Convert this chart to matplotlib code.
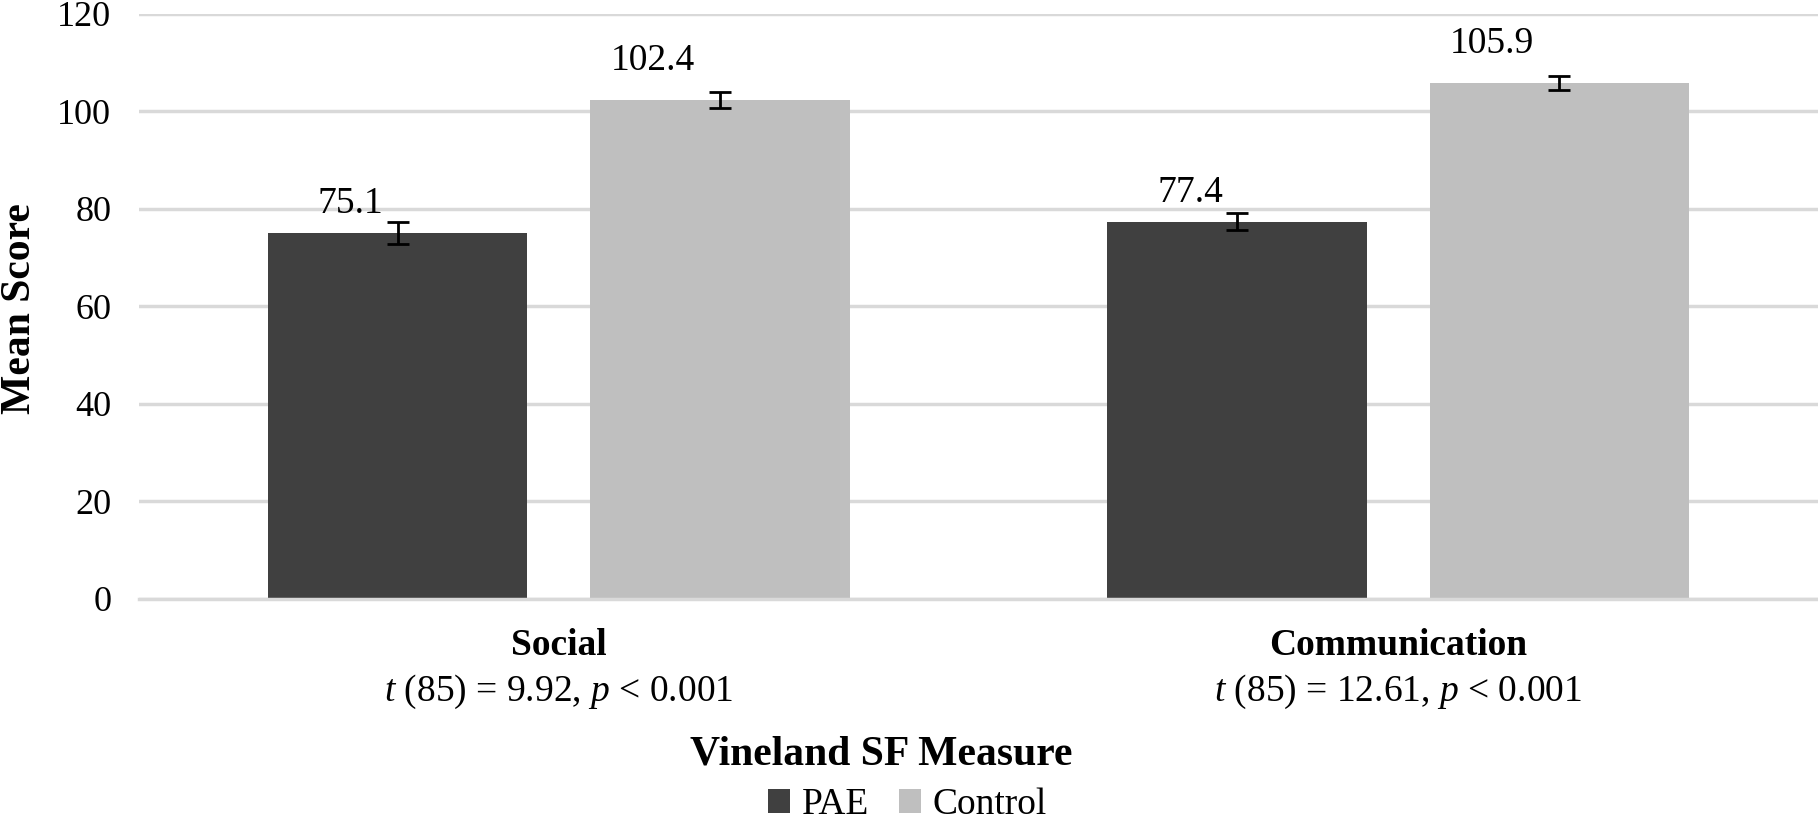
import matplotlib.pyplot as plt
import numpy as np

# data
measures = ["Social", "Communication"]
stats = ["$t$ (85) = 9.92, $p$ < 0.001", "$t$ (85) = 12.61, $p$ < 0.001"]
pae = [75.1, 77.4]
control = [102.4, 105.9]
pae_err = [2.2, 1.7]
control_err = [1.6, 1.4]

plt.rcParams['font.family'] = ['Liberation Serif', 'DejaVu Serif']
plt.rcParams['mathtext.fontset'] = 'custom'
plt.rcParams['mathtext.rm'] = 'Liberation Serif'
plt.rcParams['mathtext.it'] = 'Liberation Serif:italic'

fs = 27
fig = plt.figure(figsize=(18.18, 8.22), dpi=100)
ax = fig.add_axes([0.0765, 0.2713, 0.9235, 0.7117])

x = np.arange(len(measures))
w = 0.309
off = 0.192
b1 = ax.bar(x - off, pae, w, color='#404040', label='PAE', zorder=2)
b2 = ax.bar(x + off, control, w, color='#bfbfbf', label='Control', zorder=2)
ax.errorbar(x - off, pae, yerr=pae_err, fmt='none', ecolor='black', elinewidth=2,
            capsize=8, capthick=2, zorder=3)
ax.errorbar(x + off, control, yerr=control_err, fmt='none', ecolor='black', elinewidth=2,
            capsize=8, capthick=2, zorder=3)

# value labels (sit a bit left of bar centre, like the original)
for xi, v in zip(x - off, pae):
    ax.text(xi - 0.056, v + 6.0, f"{v:.1f}", ha='center', va='center', fontsize=fs)
for xi, v in zip(x + off, control):
    ax.text(xi - 0.08, v + 8.0, f"{v:.1f}", ha='center', va='center', fontsize=fs)

ax.set_xlim(-0.5, 1.5)
ax.set_ylim(0, 120)
ax.set_yticks(np.arange(0, 121, 20))
ax.tick_params(axis='y', length=0, pad=20, labelsize=26)
ax.set_xticks([])
ax.grid(axis='y', color='#d9d9d9', linewidth=2.5, zorder=0)
ax.set_axisbelow(True)
for s in ['top', 'right', 'left']:
    ax.spines[s].set_visible(False)
ax.spines['bottom'].set_color('#d9d9d9')
ax.spines['bottom'].set_linewidth(2.5)

trans = ax.get_xaxis_transform()
for xi, m, st in zip(x, measures, stats):
    ax.text(xi, -0.079, m, transform=trans, ha='center', va='center',
            fontsize=fs, fontweight='bold')
    ax.text(xi, -0.159, st, transform=trans, ha='center', va='center', fontsize=fs)

fig.text(0.485, 1 - 754 / 822, "Vineland SF Measure", ha='center', va='center',
         fontsize=30, fontweight='bold')
fig.text(0.011, 0.625, "Mean Score", rotation=90, ha='center', va='center',
         fontsize=30, fontweight='bold')

fig.legend(handles=[b1, b2], loc='center', bbox_to_anchor=(0.499, 1 - 805 / 822),
           ncol=2, frameon=False, fontsize=fs, handlelength=0.6, handleheight=0.6,
           handletextpad=0.3, columnspacing=0.8, borderpad=0.1)

fig.savefig('out.png', dpi=100)
